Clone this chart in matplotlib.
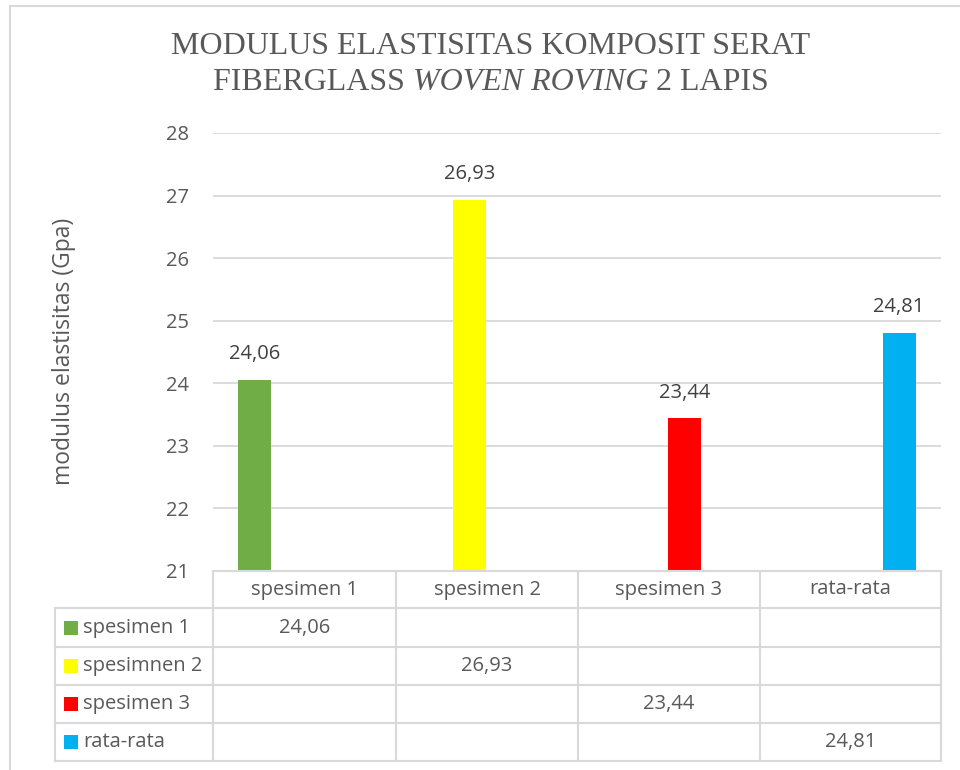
import numpy as np
import matplotlib
matplotlib.use("Agg")
import matplotlib.pyplot as plt
from matplotlib.patches import Rectangle
from matplotlib.lines import Line2D

# data
categories = ["spesimen 1", "spesimen 2", "spesimen 3", "rata-rata"]
series_names = ["spesimen 1", "spesimnen 2", "spesimen 3", "rata-rata"]
spesimen1 = [24.06, np.nan, np.nan, np.nan]
spesimen2 = [np.nan, 26.93, np.nan, np.nan]
spesimen3 = [np.nan, np.nan, 23.44, np.nan]
rata_rata = [np.nan, np.nan, np.nan, 24.81]
colors = ["#70AD47", "#FFFF00", "#FF0000", "#00B0F0"]
yticks = [21, 22, 23, 24, 25, 26, 27, 28]

series = [spesimen1, spesimen2, spesimen3, rata_rata]

W, H = 960, 770
fig = plt.figure(figsize=(W / 100, H / 100), dpi=100)

def fx(x):
    return x / W

def fy(y):
    return 1 - y / H

sans = "Open Sans"
grey = "#595959"
grid = "#D9D9D9"
fs = 14.5

# outer chart border
fig.patches.append(Rectangle((fx(10), fy(800)), fx(970), 794 / H, transform=fig.transFigure,
                             fill=False, edgecolor=grid, lw=1.5))

ax = fig.add_axes([fx(213), fy(571), fx(941) - fx(213), fy(133) - fy(571)])
x = np.arange(len(categories))
bw = 0.18
for i, vals in enumerate(series):
    off = (i - 1.5) * bw
    ax.bar(x + off, vals, bw, color=colors[i], zorder=3)
    for xi, v in zip(x, vals):
        if not np.isnan(v):
            ax.text(xi + off, v + 0.25, f"{v:.2f}".replace(".", ","), ha="center", va="bottom",
                    fontsize=fs, color="#404040", family=sans)

ax.set_xlim(-0.5, 3.5)
ax.set_ylim(21, 28)
ax.set_yticks(yticks)
ax.set_xticks([])
ax.yaxis.grid(True, color=grid, lw=1.3, zorder=0)
ax.tick_params(axis="y", length=0, pad=17, labelsize=fs, labelcolor=grey)
for lab in ax.get_yticklabels():
    lab.set_family(sans)
for s in ax.spines.values():
    s.set_visible(False)

fig.text(fx(64), fy(351), "modulus elastisitas (Gpa)", rotation=90, ha="center", va="center",
         fontsize=16.5, color=grey, family=sans)

# title
serif = "Liberation Serif"
tsize = 23
fig.text(fx(491), fy(47), "MODULUS ELASTISITAS KOMPOSIT SERAT", ha="center", va="center",
         fontsize=tsize, color=grey, family=serif)
parts = [("FIBERGLASS ", "normal"), ("WOVEN ROVING", "italic"), (" 2 LAPIS", "normal")]
r = fig.canvas.get_renderer()
objs = []
for txt, st in parts:
    t = fig.text(0, fy(83), txt, ha="left", va="center", fontsize=tsize, color=grey,
                 family=serif, style=st)
    objs.append(t)
widths = [t.get_window_extent(r).width for t in objs]
start = 491 - sum(widths) / 2
for t, w in zip(objs, widths):
    t.set_x(fx(start))
    start += w

# data table
col_x = [55, 213, 396, 578, 760, 941]
row_y = [571, 608, 647, 685, 723, 761]
tl = dict(color=grid, lw=1.5, transform=fig.transFigure)
# horizontal lines
fig.lines.append(Line2D([fx(213), fx(941)], [fy(row_y[0])] * 2, **tl))
for yy in row_y[1:]:
    fig.lines.append(Line2D([fx(55), fx(941)], [fy(yy)] * 2, **tl))
# vertical lines
fig.lines.append(Line2D([fx(55), fx(55)], [fy(row_y[1]), fy(row_y[-1])], **tl))
for xx in col_x[1:]:
    fig.lines.append(Line2D([fx(xx)] * 2, [fy(row_y[0]), fy(row_y[-1])], **tl))

for j, c in enumerate(categories):
    cx = (col_x[j + 1] + col_x[j + 2]) / 2
    cy = (row_y[0] + row_y[1]) / 2
    fig.text(fx(cx), fy(cy), c, ha="center", va="center", fontsize=fs, color=grey, family=sans)

for i, name in enumerate(series_names):
    cy = (row_y[i + 1] + row_y[i + 2]) / 2
    fig.patches.append(Rectangle((fx(64), fy(cy + 7)), fx(14), 14 / H, transform=fig.transFigure,
                                 facecolor=colors[i], edgecolor="none"))
    fig.text(fx(83), fy(cy), name, ha="left", va="center", fontsize=fs, color=grey, family=sans)
    for j, v in enumerate(series[i]):
        if not np.isnan(v):
            cx = (col_x[j + 1] + col_x[j + 2]) / 2
            fig.text(fx(cx), fy(cy), f"{v:.2f}".replace(".", ","), ha="center", va="center",
                     fontsize=fs, color=grey, family=sans)

fig.savefig("out.png", dpi=100)
